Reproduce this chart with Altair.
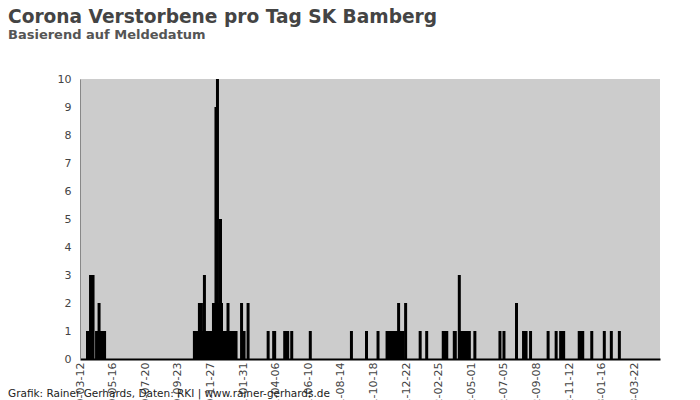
import altair as alt
import pandas as pd

TITLE = "Corona Verstorbene pro Tag SK Bamberg"
SUBTITLE = "Basierend auf Meldedatum"
FOOTER = "Grafik: Rainer Gerhards, Daten: RKI | www.rainer-gerhards.de"

DATES = [
    "2020-03-27", "2020-03-29", "2020-03-31", "2020-04-02", "2020-04-04", "2020-04-07",
    "2020-04-14", "2020-04-16", "2020-04-19", "2020-04-21", "2020-04-23", "2020-04-25",
    "2020-04-27", "2020-04-30",
    "2020-10-26", "2020-10-29", "2020-11-01", "2020-11-05", "2020-11-07", "2020-11-09",
    "2020-11-12", "2020-11-15", "2020-11-18", "2020-11-21", "2020-11-24", "2020-11-27",
    "2020-11-30", "2020-12-03", "2020-12-05", "2020-12-08", "2020-12-11", "2020-12-14",
    "2020-12-17", "2020-12-19", "2020-12-22", "2020-12-25", "2020-12-28", "2021-01-01",
    "2021-01-04", "2021-01-07", "2021-01-10", "2021-01-14", "2021-01-17",
    "2021-01-28", "2021-01-31", "2021-02-02", "2021-02-10",
    "2021-03-22", "2021-04-02", "2021-04-04", "2021-04-24", "2021-04-27", "2021-04-30",
    "2021-05-08", "2021-06-14", "2021-09-04", "2021-10-04", "2021-10-27",
    "2021-11-14", "2021-11-17", "2021-11-20", "2021-11-23", "2021-11-26", "2021-11-29",
    "2021-12-02", "2021-12-04", "2021-12-07", "2021-12-10", "2021-12-13", "2021-12-16",
    "2021-12-21",
    "2022-01-19", "2022-02-01", "2022-03-06", "2022-03-09", "2022-03-13", "2022-03-28",
    "2022-03-30", "2022-04-07", "2022-04-10", "2022-04-13", "2022-04-16", "2022-04-19",
    "2022-04-22", "2022-04-25", "2022-04-27", "2022-05-08",
    "2022-06-27", "2022-07-05", "2022-07-30", "2022-08-13", "2022-08-16", "2022-08-18",
    "2022-08-27", "2022-10-01", "2022-10-17", "2022-10-26", "2022-10-29", "2022-11-01",
    "2022-12-02", "2022-12-05", "2022-12-09", "2022-12-27",
    "2023-01-21", "2023-02-04", "2023-02-20",
]
DEATHS = [
    1, 1, 1, 3, 3, 3,
    1, 1, 2, 1, 1, 1,
    1, 1,
    1, 1, 1, 2, 2, 2,
    1, 3, 1, 1, 1, 1,
    1, 2, 2, 9, 10, 2,
    5, 2, 1, 1, 1, 2,
    1, 1, 1, 1, 1,
    2, 1, 1, 2,
    1, 1, 1, 1, 1, 1,
    1, 1, 1, 1, 1,
    1, 1, 1, 1, 1, 1,
    1, 1, 2, 1, 1, 1,
    2,
    1, 1, 1, 1, 1, 1,
    1, 3, 1, 1, 1, 1,
    1, 1, 1, 1,
    1, 1, 2, 1, 1, 1,
    1, 1, 1, 1, 1, 1,
    1, 1, 1, 1,
    1, 1, 1,
]

TICK_DATES = [
    "2020-03-12", "2020-05-16", "2020-07-20", "2020-09-23", "2020-11-27",
    "2021-01-31", "2021-04-06", "2021-06-10", "2021-08-14", "2021-10-18",
    "2021-12-22", "2022-02-25", "2022-05-01", "2022-07-05", "2022-09-08",
    "2022-11-12", "2023-01-16", "2023-03-22",
]
DOMAIN_DATES = ["2020-03-12", "2023-05-12"]
Y_TICKS = list(range(0, 11))


def dt(s):
    y, m, d = (int(p) for p in s.split("-"))
    return alt.DateTime(year=y, month=m, date=d, utc=True)


df = pd.DataFrame({"date": DATES, "deaths": DEATHS})

bars = alt.Chart(df).mark_bar(size=3, color="#000000").encode(
    x=alt.X(
        "date:T",
        scale=alt.Scale(
            type="utc", domain=[dt(s) for s in DOMAIN_DATES], nice=False, padding=0
        ),
        axis=alt.Axis(
            values=[dt(s) for s in TICK_DATES],
            labelExpr="utcFormat(datum.value, '%Y-%m-%d')",
            labelAngle=-90,
            labelFontSize=11,
            labelColor="#444444",
            labelFont="DejaVu Sans",
            labelPadding=3,
            tickSize=0,
            grid=False,
            domainColor="#000000",
            domainWidth=2,
            title=None,
            labelOverlap=False,
        ),
    ),
    y=alt.Y(
        "deaths:Q",
        scale=alt.Scale(domain=[0, 10], nice=False),
        axis=alt.Axis(
            values=Y_TICKS,
            labelFontSize=11,
            labelColor="#444444",
            labelFont="DejaVu Sans",
            labelPadding=9,
            tickSize=0,
            grid=False,
            domainColor="#888888",
            title=None,
        ),
    ),
)


def text_layer(txt, size, weight, color, y):
    return alt.Chart(pd.DataFrame({"t": [txt]})).mark_text(
        align="left", baseline="alphabetic", font="DejaVu Sans",
        fontSize=size, fontWeight=weight, color=color,
    ).encode(text="t:N", x=alt.value(-72), y=alt.value(y))


title = text_layer(TITLE, 18.6, "bold", "#444444", -56)
subtitle = text_layer(SUBTITLE, 13, "bold", "#555555", -40)
footer = text_layer(FOOTER, 10.5, "normal", "#222222", 318)

chart = alt.layer(bars, title, subtitle, footer).properties(
    width=580,
    height=280,
    autosize=alt.AutoSizeParams(type="none"),
    padding={"left": 72, "top": 71, "right": 32, "bottom": 41},
).configure_view(fill="#cccccc", strokeWidth=0)

chart.save("out.html", embed_options={"renderer": "svg", "actions": False})
